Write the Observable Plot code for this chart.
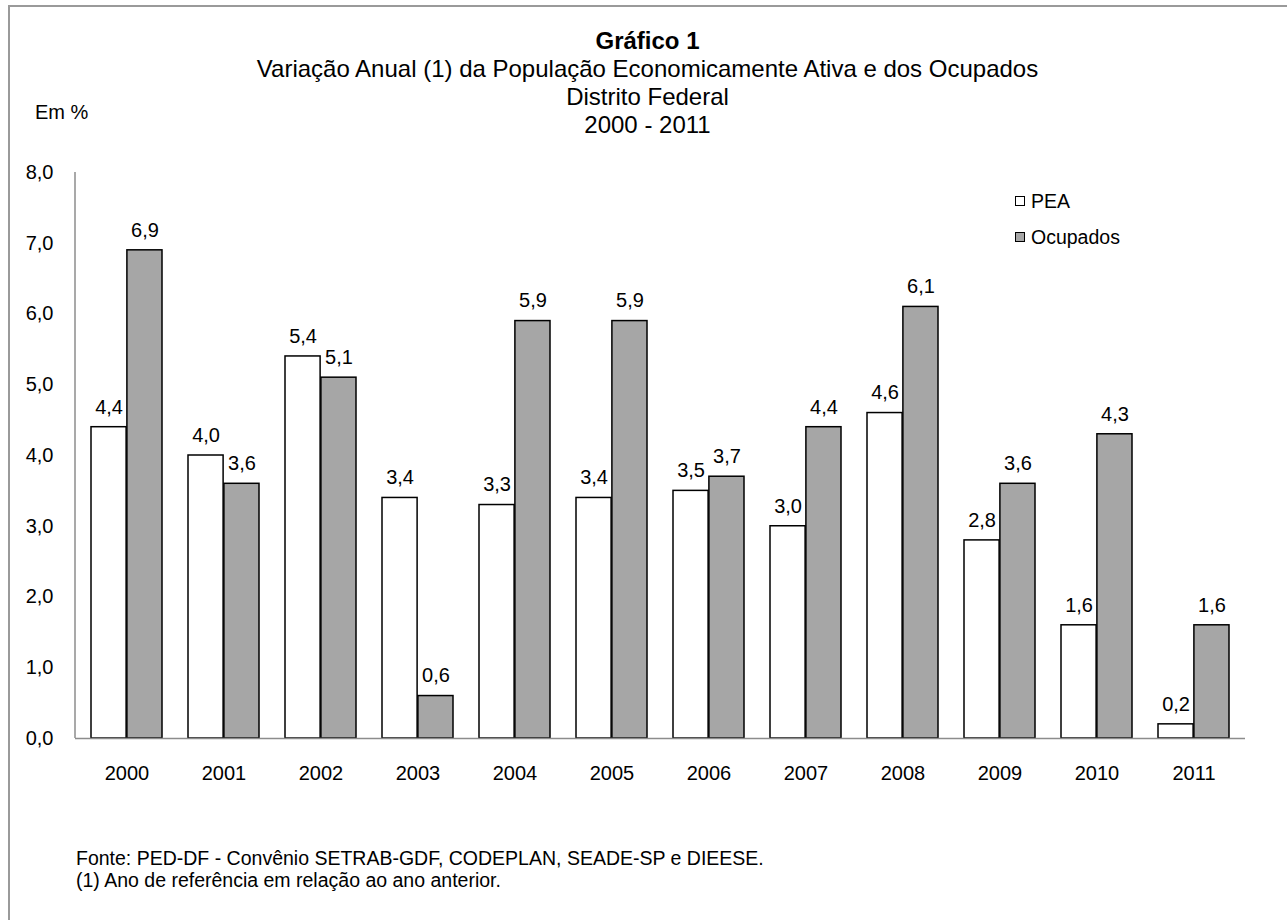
<!DOCTYPE html>
<html><head><meta charset="utf-8">
<script src="https://cdn.jsdelivr.net/npm/d3@7"></script>
<script src="https://cdn.jsdelivr.net/npm/@observablehq/plot@0.6"></script>
<style>
body{margin:0;width:1287px;height:920px;overflow:hidden;background:#fff;font-family:"Liberation Sans",Arial,sans-serif;color:#000;position:relative;}
#frame{position:absolute;left:8px;top:5px;width:1300px;height:940px;border:2px solid #9a9a9a;box-sizing:border-box;}
#head{position:absolute;left:8px;width:1279px;top:27px;text-align:center;font-size:24px;line-height:28px;}
#head .t{font-weight:bold;}
#unit{position:absolute;left:35px;top:100px;font-size:20px;line-height:24px;}
#chart{position:absolute;left:0;top:130px;}
#legend{position:absolute;left:1015px;top:183px;font-size:19.5px;line-height:36px;}
#legend span.sw{display:inline-block;width:8px;height:8px;border:1px solid #000;margin-right:6px;vertical-align:2px;}
#foot{position:absolute;left:76px;top:847px;font-size:19.5px;line-height:22px;}
</style></head>
<body>
<div id="frame"></div>
<div id="head"><div class="t">Gráfico 1</div><div>Variação Anual (1) da População Economicamente Ativa e dos Ocupados</div><div>Distrito Federal</div><div>2000 - 2011</div></div>
<div id="unit">Em %</div>
<div id="chart"></div>
<div id="legend"></div>
<div id="foot">Fonte: PED-DF - Convênio SETRAB-GDF, CODEPLAN, SEADE-SP e DIEESE.<br>(1) Ano de referência em relação ao ano anterior.</div>
<script>
const years = ["2000","2001","2002","2003","2004","2005","2006","2007","2008","2009","2010","2011"];
const pea = [4.4, 4.0, 5.4, 3.4, 3.3, 3.4, 3.5, 3.0, 4.6, 2.8, 1.6, 0.2];
const ocupados = [6.9, 3.6, 5.1, 0.6, 5.9, 5.9, 3.7, 4.4, 6.1, 3.6, 4.3, 1.6];
const seriesNames = ["PEA", "Ocupados"];
const seriesColors = ["#ffffff", "#a6a6a6"];
const yTicks = [0,1,2,3,4,5,6,7,8];

const fmt = d => d.toFixed(1).replace(".", ",");
const dPEA = years.map((y,i) => ({year:y, value:pea[i]}));
const dOc = years.map((y,i) => ({year:y, value:ocupados[i]}));

const W = 1287, H = 680, mL = 75, mR = 42, mT = 42, mB = 72;
const pIn = 0.264, pOut = 0.13;
const bw = d3.scaleBand().domain(years).range([mL, W - mR]).paddingInner(pIn).paddingOuter(pOut).bandwidth();
const half = bw / 2;

const leftAxisLine = (index, scales, values, dims) => {
  const l = d3.create("svg:line")
    .attr("x1", dims.marginLeft).attr("x2", dims.marginLeft)
    .attr("y1", scales.y(0)).attr("y2", scales.y(yTicks[yTicks.length-1]))
    .attr("stroke", "#8c8c8c").attr("stroke-width", 1.5);
  return l.node();
};

const chart = Plot.plot({
  width: W, height: H,
  marginLeft: mL, marginRight: mR, marginTop: mT, marginBottom: mB,
  style: {fontFamily: "Liberation Sans, Arial, sans-serif", fontSize: "20px", color: "#000", background: "transparent"},
  x: {domain: years, paddingInner: pIn, paddingOuter: pOut, label: null},
  y: {domain: [0, 8], label: null},
  marks: [
    Plot.barY(dPEA, {x: "year", y: "value", fill: seriesColors[0], stroke: "#000", strokeWidth: 1.5, insetRight: half}),
    Plot.barY(dOc, {x: "year", y: "value", fill: seriesColors[1], stroke: "#000", strokeWidth: 1.5, insetLeft: half}),
    Plot.text(dPEA, {x: "year", y: "value", text: d => fmt(d.value), dx: -half/2, dy: -20, fontSize: 20, fill: "#000"}),
    Plot.text(dOc, {x: "year", y: "value", text: d => fmt(d.value), dx: half/2, dy: -20, fontSize: 20, fill: "#000"}),
    Plot.ruleY([0], {stroke: "#8c8c8c", strokeWidth: 1.5}),
    leftAxisLine,
    Plot.axisY({ticks: yTicks, tickFormat: fmt, tickSize: 0, tickPadding: 22, fontSize: 20, label: null}),
    Plot.axisX({tickSize: 0, tickPadding: 27, fontSize: 20, label: null})
  ]
});
document.getElementById("chart").appendChild(chart);

const lg = document.getElementById("legend");
seriesNames.forEach((n, i) => {
  const row = document.createElement("div");
  row.innerHTML = `<span class="sw" style="background:${seriesColors[i]}"></span>${n}`;
  lg.appendChild(row);
});
</script>
</body></html>
